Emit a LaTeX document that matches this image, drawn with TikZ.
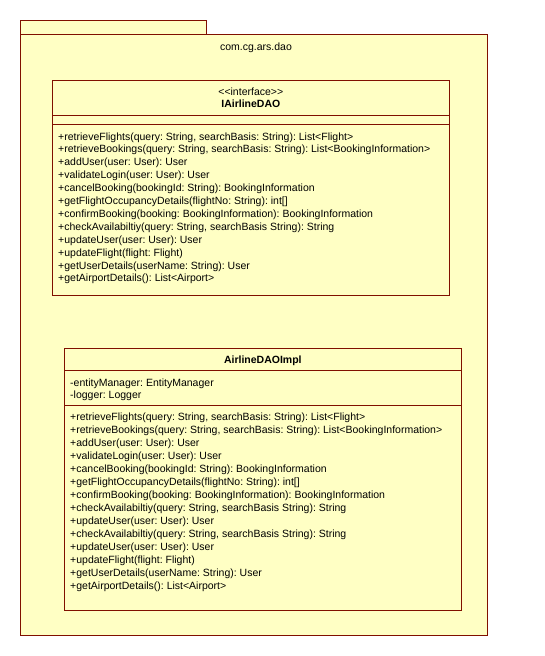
\documentclass[tikz,border=0pt]{standalone}
\usepackage{fontspec}
\setmainfont{Liberation Sans}
\usetikzlibrary{positioning}
\definecolor{umlFondo}{RGB}{255,255,196}
\definecolor{umlBorde}{RGB}{128,16,0}
\frenchspacing

\begin{document}
\begin{tikzpicture}[x=1pt,y=-1pt,
    caja/.style={draw=umlBorde,fill=umlFondo,line width=1pt},
    linea/.style={anchor=base west,inner sep=0pt,font=\fontsize{10.5}{12}\selectfont},
    titulo/.style={anchor=base,inner sep=0pt,font=\fontsize{10.5}{12}\selectfont}]
  \useasboundingbox (0,0) rectangle (545,656);
  \fill[white] (0,0) rectangle (545,656);
  % paquete
  \draw[caja] (20.5,20.5) rectangle (206.3,34);
  \draw[caja] (20.5,34) rectangle (487.3,635);
  \node[titulo] (pkg) at (256,50) {com.cg.ars.dao};
  % interfaz
  \draw[caja] (52.3,80.3) rectangle (449.3,295);
  \draw[umlBorde,line width=1pt] (52.3,115.3) -- (449.3,115.3) (52.3,124.3) -- (449.3,124.3);
  \node[titulo] (stereo) at (250.8,95.5) {<{}<interface>{}>};
  \node[titulo,font=\fontsize{10.5}{12}\selectfont\bfseries] (iface) at (250.8,107.5) {IAirlineDAO};
  \foreach \m [count=\i] in {
      {+retrieveFlights(query: String, searchBasis: String): List<Flight>},
      {+retrieveBookings(query: String, searchBasis: String): List<BookingInformation>},
      {+addUser(user: User): User},
      {+validateLogin(user: User): User},
      {+cancelBooking(bookingId: String): BookingInformation},
      {+getFlightOccupancyDetails(flightNo: String): int[]},
      {+confirmBooking(booking: BookingInformation): BookingInformation},
      {+checkAvailabiltiy(query: String, searchBasis String): String},
      {+updateUser(user: User): User},
      {+updateFlight(flight: Flight)},
      {+getUserDetails(userName: String): User},
      {+getAirportDetails(): List<Airport>}}
    \node[linea] (im\i) at (58,{140+12.9*(\i-1)}) {\m};
  % implementacion
  \draw[caja] (64.3,348.3) rectangle (461.3,610.3);
  \draw[umlBorde,line width=1pt] (64.3,370.3) -- (461.3,370.3) (64.3,405.3) -- (461.3,405.3);
  \node[titulo,font=\fontsize{10.5}{12}\selectfont\bfseries] (impl) at (262.8,363.5) {AirlineDAOImpl};
  \node[linea] (at1) at (70,386) {-entityManager: EntityManager};
  \node[linea] (at2) at (70,398.5) {-logger: Logger};
  \foreach \m [count=\i] in {
      {+retrieveFlights(query: String, searchBasis: String): List<Flight>},
      {+retrieveBookings(query: String, searchBasis: String): List<BookingInformation>},
      {+addUser(user: User): User},
      {+validateLogin(user: User): User},
      {+cancelBooking(bookingId: String): BookingInformation},
      {+getFlightOccupancyDetails(flightNo: String): int[]},
      {+confirmBooking(booking: BookingInformation): BookingInformation},
      {+checkAvailabiltiy(query: String, searchBasis String): String},
      {+updateUser(user: User): User},
      {+checkAvailabiltiy(query: String, searchBasis String): String},
      {+updateUser(user: User): User},
      {+updateFlight(flight: Flight)},
      {+getUserDetails(userName: String): User},
      {+getAirportDetails(): List<Airport>}}
    \node[linea] (mm\i) at (70,{420+13*(\i-1)}) {\m};
\end{tikzpicture}
\end{document}
